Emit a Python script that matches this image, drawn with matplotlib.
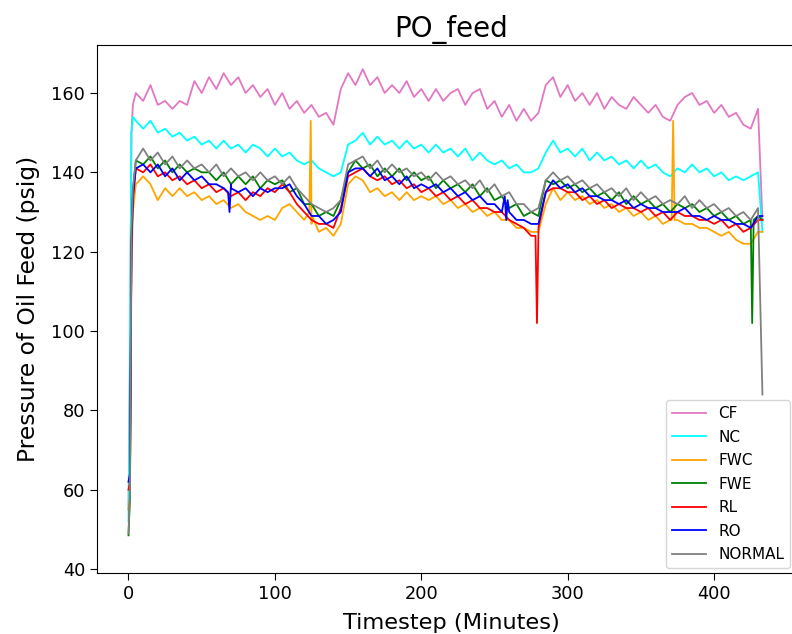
import matplotlib
matplotlib.use("Agg")
import matplotlib.pyplot as plt
import numpy as np

# sample times (minutes): 0,1,2,3 then every 5 min, then the final drop
minutes = np.array([0, 1, 2, 3] + list(range(5, 431, 5)) + [433])

cf = [55, 90, 150, 157,
      160, 158, 162, 157, 158, 156, 158, 157, 163, 160,
      164, 161, 165, 162, 164, 160, 162, 159, 161, 157,
      160, 156, 158, 155, 157, 154, 155, 152, 161, 165,
      162, 166, 162, 164, 160, 162, 160, 163, 159, 161,
      158, 161, 158, 160, 161, 157, 160, 161, 156, 158,
      154, 157, 153, 156, 153, 155, 162, 164, 159, 162,
      158, 160, 157, 160, 156, 159, 157, 156, 159, 157,
      155, 157, 154, 153, 157, 159, 160, 157, 158, 155,
      157, 154, 155, 152, 151, 156,
      128]
nc = [52, 100, 150, 154,
      153, 151, 153, 150, 151, 149, 150, 148, 149, 147,
      148, 146, 148, 146, 147, 145, 147, 146, 144, 146,
      144, 145, 143, 142, 143, 141, 140, 139, 140, 147,
      148, 150, 147, 149, 147, 148, 146, 148, 146, 147,
      145, 147, 145, 146, 144, 146, 143, 145, 143, 142,
      143, 141, 142, 140, 140, 141, 145, 148, 145, 146,
      144, 146, 143, 145, 143, 144, 142, 143, 141, 143,
      141, 142, 140, 139, 141, 140, 142, 140, 141, 139,
      140, 138, 139, 138, 139, 140,
      125]
fwc = [55, 58, 115, 130,
       137, 139, 137, 133, 136, 134, 136, 134, 135, 133,
       134, 132, 133, 131, 132, 130, 129, 128, 129, 128,
       131, 132, 130, 128, 127, 125, 126, 124, 127, 137,
       139, 138, 135, 136, 134, 135, 133, 135, 133, 134,
       133, 134, 132, 133, 131, 132, 130, 131, 129, 130,
       128, 128, 126, 126, 125, 125, 132, 136, 133, 135,
       133, 134, 132, 133, 131, 132, 130, 131, 129, 130,
       128, 129, 127, 128, 128, 127, 127, 126, 126, 125,
       124, 125, 123, 122, 122, 125,
       125]
fwe = [48.5, 58, 122, 135,
       143, 142, 144, 141, 143, 140, 142, 140, 141, 140,
       140, 138, 140, 137, 139, 137, 139, 136, 138, 137,
       138, 135, 136, 132, 132, 129, 130, 129, 133, 140,
       143, 141, 142, 139, 141, 139, 141, 138, 140, 138,
       139, 136, 138, 136, 137, 135, 137, 134, 136, 133,
       134, 131, 132, 129, 130, 129, 138, 137, 138, 136,
       137, 135, 136, 134, 135, 133, 135, 132, 134, 132,
       133, 131, 132, 130, 132, 131, 132, 130, 131, 129,
       130, 128, 129, 127, 128, 129,
       128]
rl = [60, 62, 120, 133,
      141, 140, 142, 139, 140, 138, 139, 137, 138, 136,
      137, 135, 136, 134, 135, 133, 135, 134, 136, 135,
      137, 135, 132, 130, 128, 127, 127, 126, 131, 139,
      140, 141, 139, 138, 139, 137, 138, 136, 137, 135,
      136, 134, 135, 133, 134, 132, 133, 131, 131, 130,
      130, 128, 127, 126, 124, 125, 135, 136, 136, 135,
      135, 133, 134, 132, 133, 131, 132, 131, 131, 130,
      131, 129, 130, 128, 130, 129, 129, 128, 128, 127,
      128, 126, 127, 125, 126, 128,
      128]
ro = [62, 64, 122, 134,
      141, 142, 140, 142, 139, 141, 138, 140, 138, 139,
      137, 137, 136, 137, 135, 136, 134, 136, 135, 136,
      136, 137, 134, 132, 129, 129, 127, 128, 130, 140,
      141, 141, 139, 141, 138, 139, 137, 139, 136, 137,
      136, 137, 135, 136, 134, 135, 133, 134, 132, 132,
      130, 130, 128, 128, 127, 127, 135, 138, 136, 137,
      135, 136, 134, 134, 133, 133, 132, 133, 131, 132,
      131, 131, 130, 130, 130, 131, 129, 129, 128, 129,
      128, 128, 127, 127, 126, 129,
      129]
normal = [49, 60, 125, 136,
          143, 146, 143, 145, 142, 144, 141, 143, 141, 142,
          140, 142, 139, 141, 139, 140, 138, 140, 138, 139,
          137, 139, 136, 134, 132, 131, 130, 131, 133, 142,
          143, 144, 141, 143, 140, 142, 140, 141, 139, 140,
          138, 140, 138, 139, 137, 138, 136, 138, 135, 137,
          134, 135, 132, 132, 130, 131, 138, 140, 138, 139,
          137, 138, 136, 137, 135, 136, 134, 136, 133, 135,
          133, 134, 132, 133, 132, 134, 131, 133, 131, 132,
          130, 131, 129, 130, 128, 131,
          84]

# short-lived spikes (time, value)
fwc_spike_t = [123.5, 124.5, 125.5, 371, 372, 373]
fwc_spike_v = [130, 153, 129, 128, 153, 128]
fwe_spike_t = [425, 426, 427]
fwe_spike_v = [128, 102, 128]
rl_spike_t = [278, 279, 280]
rl_spike_v = [124, 102, 126]
ro_spike_t = [68, 69, 70, 257, 258, 259]
ro_spike_v = [135, 130, 136, 134, 128, 133]

labels = ["CF", "NC", "FWC", "FWE", "RL", "RO", "NORMAL"]
colors = ["#e377c2", "cyan", "orange", "green", "red", "blue", "gray"]


def merge(values, spike_t=(), spike_v=()):
    t = np.concatenate([minutes, np.asarray(spike_t, dtype=float)])
    v = np.concatenate([np.asarray(values, dtype=float), np.asarray(spike_v, dtype=float)])
    order = np.argsort(t, kind="stable")
    return t[order], v[order]


series = [
    merge(cf),
    merge(nc),
    merge(fwc, fwc_spike_t, fwc_spike_v),
    merge(fwe, fwe_spike_t, fwe_spike_v),
    merge(rl, rl_spike_t, rl_spike_v),
    merge(ro, ro_spike_t, ro_spike_v),
    merge(normal),
]

fig = plt.figure(figsize=(7.92, 6.34), dpi=100)
ax = fig.add_axes([0.1225, 0.0962, 0.8947, 0.8328])
for (t, v), lab, col in zip(series, labels, colors):
    ax.plot(t, v, color=col, label=lab, linewidth=1.3)

ax.set_xlim(-21.5, 462.5)
ax.set_ylim(39, 172.1)
ax.set_xticks([0, 100, 200, 300, 400])
ax.set_yticks([40, 60, 80, 100, 120, 140, 160])
ax.tick_params(labelsize=12.8, length=5)
ax.set_title("PO_feed", fontsize=20)
ax.set_xlabel("Timestep (Minutes)", fontsize=16.2, labelpad=7.5)
ax.set_ylabel("Pressure of Oil Feed (psig)", fontsize=16.8, labelpad=8.5)
ax.legend(loc="lower right", fontsize=11, labelspacing=0.56, handlelength=2.2,
          bbox_to_anchor=(0.985, 0.0), borderaxespad=0.3)

fig.savefig("out.png", dpi=100)
